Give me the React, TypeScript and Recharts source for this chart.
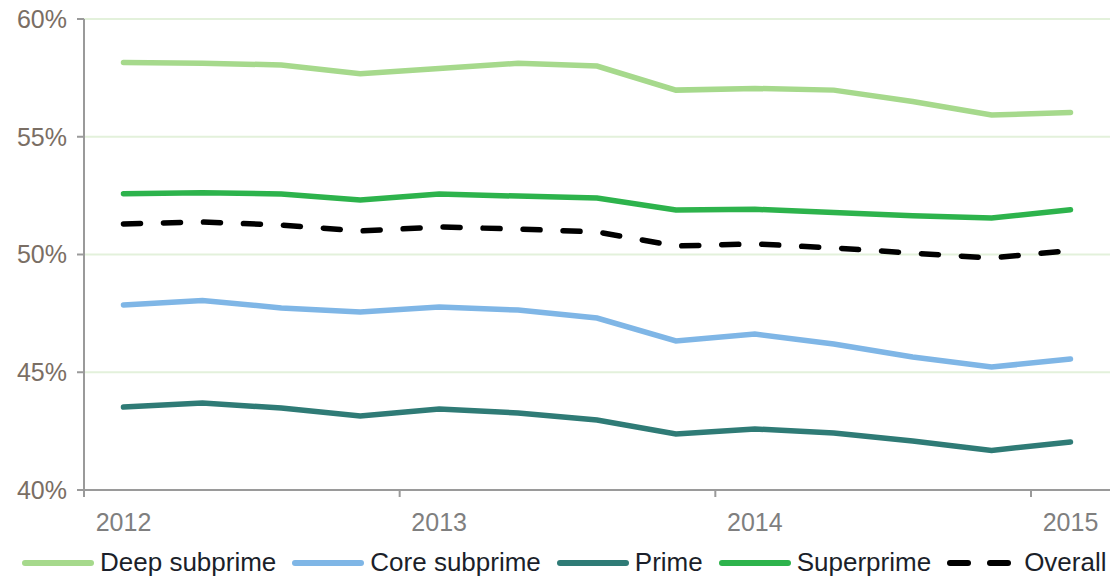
import { LineChart, Line, XAxis, YAxis, CartesianGrid, Legend } from "recharts";

const quarters = [
  "2012Q1", "2012Q2", "2012Q3", "2012Q4",
  "2013Q1", "2013Q2", "2013Q3", "2013Q4",
  "2014Q1", "2014Q2", "2014Q3", "2014Q4",
  "2015Q1",
];
const deepSubprime = [58.15, 58.12, 58.05, 57.68, 57.9, 58.12, 58.0, 56.98, 57.05, 56.98, 56.5, 55.92, 56.03];
const coreSubprime = [47.86, 48.05, 47.73, 47.56, 47.77, 47.64, 47.3, 46.33, 46.62, 46.2, 45.65, 45.22, 45.56];
const prime = [43.52, 43.69, 43.48, 43.14, 43.44, 43.27, 42.97, 42.38, 42.59, 42.42, 42.08, 41.68, 42.04];
const superprime = [52.58, 52.62, 52.57, 52.31, 52.57, 52.48, 52.4, 51.89, 51.92, 51.78, 51.65, 51.55, 51.9];
const overall = [51.3, 51.38, 51.25, 51.0, 51.17, 51.08, 50.96, 50.36, 50.45, 50.28, 50.06, 49.85, 50.17];
const yTicks = [40, 45, 50, 55, 60];

const data = quarters.map((q, i) => ({
  q,
  deep: deepSubprime[i],
  core: coreSubprime[i],
  prime: prime[i],
  superprime: superprime[i],
  overall: overall[i],
}));

const HALF_BAND = 39.5;

const series = [
  { key: "deep", name: "Deep subprime", color: "#a6d98c", dash: undefined },
  { key: "core", name: "Core subprime", color: "#7fb6e6", dash: undefined },
  { key: "prime", name: "Prime", color: "#2f7b76", dash: undefined },
  { key: "superprime", name: "Superprime", color: "#2db34c", dash: undefined },
  { key: "overall", name: "Overall", color: "#000000", dash: "17 23" },
];

const YearTick = (props: any) => {
  const { x, y, payload } = props;
  return (
    <g>
      <line x1={x - HALF_BAND} x2={x - HALF_BAND} y1={y} y2={y + 7} stroke="#9a9a9a" strokeWidth={2} />
      <text
        x={x}
        y={y + 32}
        textAnchor="middle"
        dominantBaseline="central"
        fill="#7f7f7f"
        fontSize={25}
      >
        {String(payload.value).slice(0, 4)}
      </text>
    </g>
  );
};

const renderLegend = () => (
  <div
    style={{
      display: "flex",
      alignItems: "center",
      paddingLeft: 22,
      fontSize: 26,
      color: "#1b1f2a",
      fontFamily: "'Liberation Sans', Arial, sans-serif",
      whiteSpace: "nowrap",
    }}
  >
    {series.map((s) => (
      <div key={s.key} style={{ display: "flex", alignItems: "center", marginRight: 16 }}>
        <svg width={72} height={10} style={{ marginRight: s.dash ? 5 : 6 }}>
          {s.dash ? (
            <>
              <line x1={3} x2={21} y1={5} y2={5} stroke={s.color} strokeWidth={6} strokeLinecap="round" />
              <line x1={43} x2={61} y1={5} y2={5} stroke={s.color} strokeWidth={6} strokeLinecap="round" />
            </>
          ) : (
            <line x1={3} x2={69} y1={5} y2={5} stroke={s.color} strokeWidth={6} strokeLinecap="round" />
          )}
        </svg>
        <span>{s.name}</span>
      </div>
    ))}
  </div>
);

export default function App() {
  return (
    <div style={{ position: "absolute", left: 0, top: 0, fontFamily: "'Liberation Sans', Arial, sans-serif" }}>
      <LineChart
        width={1113}
        height={577}
        data={data}
        margin={{ top: 19, right: 3, left: 0, bottom: 0 }}
      >
        <CartesianGrid vertical={false} stroke="#e3f1db" strokeWidth={2} />
        <XAxis
          dataKey="q"
          interval={3}
          padding={{ left: HALF_BAND, right: HALF_BAND }}
          tickLine={false}
          tickSize={0}
          tickMargin={0}
          height={56}
          stroke="#9a9a9a"
          strokeWidth={2}
          tick={<YearTick />}
        />
        <YAxis
          domain={[40, 60]}
          ticks={yTicks}
          width={84}
          tickFormatter={(v) => `${v}%`}
          tick={{ fill: "#7a6e64", fontSize: 25 }}
          tickSize={7}
          tickMargin={10}
          stroke="#9a9a9a"
          strokeWidth={2}
        />
        <Legend verticalAlign="bottom" content={renderLegend} wrapperStyle={{ bottom: -1 }} />
        {series.map((s) => (
          <Line
            key={s.key}
            type="linear"
            dataKey={s.key}
            name={s.name}
            stroke={s.color}
            strokeWidth={5.5}
            strokeDasharray={s.dash}
            strokeLinecap="round"
            dot={false}
            isAnimationActive={false}
          />
        ))}
      </LineChart>
    </div>
  );
}
